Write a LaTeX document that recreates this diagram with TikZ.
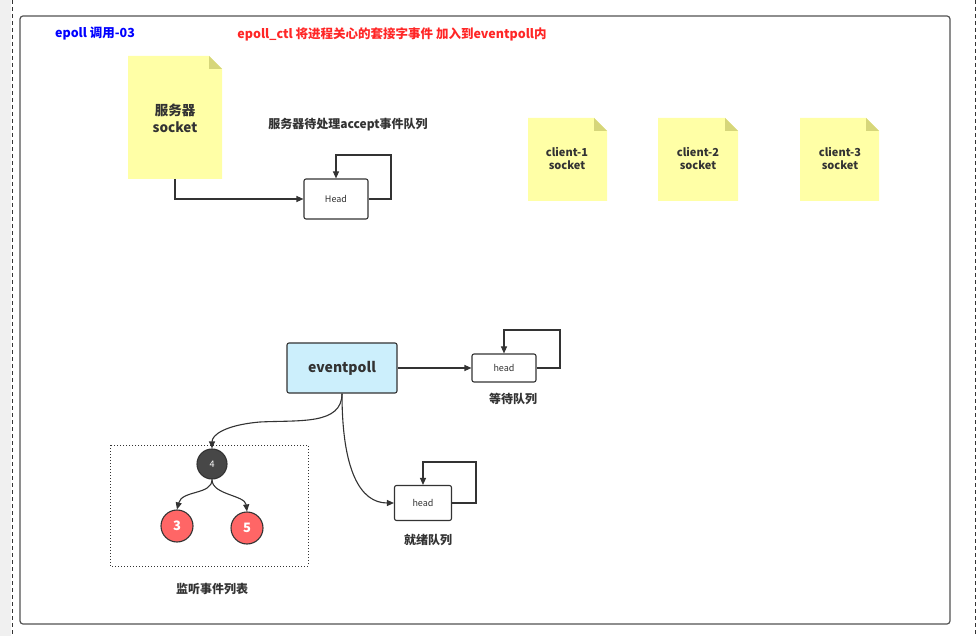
\documentclass[tikz,border=0pt]{standalone}
\usepackage{fontspec}
\setmainfont{Noto Sans CJK SC}
\usetikzlibrary{arrows.meta}
\definecolor{note}{HTML}{FFFFA6}
\definecolor{fold}{HTML}{D6D67A}
\definecolor{line}{HTML}{333333}
\begin{document}
\begin{tikzpicture}[x=1pt,y=-1pt,
  arr/.style={draw=line,line width=1.1pt,-{Triangle[length=7pt,width=6pt]}},
  hbox/.style={draw=line,line width=1.1pt,rounded corners=2pt,fill=white,inner sep=0pt},
  lbl/.style={font=\bfseries\fontsize{12}{14}\selectfont,text=line},
  clbl/.style={font=\bfseries\fontsize{11}{13}\selectfont,text=line,align=center},
  circ/.style={circle,draw=line,line width=1.1pt,inner sep=0pt,font=\bfseries\fontsize{13}{15}\selectfont,text=white}]
\useasboundingbox (0,0) rectangle (980,636);
\fill[gray!12] (0,0) rectangle (11,636);
\draw[line width=1pt,dash pattern=on 4pt off 3pt,line] (12,0) -- (12,636);
\draw[line width=1pt,dash pattern=on 4pt off 3pt,line] (975,0) -- (975,636);
\draw[line width=1.2pt,draw=line!85,rounded corners=3pt] (20,16) rectangle (950,624);
\node[font=\bfseries\fontsize{12.5}{14}\selectfont,text=blue] (t1) at (95,34) {epoll 调用-03};
\node[font=\bfseries\fontsize{12.5}{14}\selectfont,text=red!85] (t2) at (392,34) {epoll\_ctl 将进程关心的套接字事件 加入到eventpoll内};
% notes
\newcommand\mynote[5]{%
 \fill[note] (#1,#2) -- (#3-13,#2) -- (#3,#2+13) -- (#3,#4) -- (#1,#4) -- cycle;
 \fill[fold] (#3-13,#2) -- (#3,#2+13) -- (#3-13,#2+13) -- cycle;
 \coordinate (#5) at ({(#1+#3)/2},{(#2+#4)/2});}
\mynote{128}{56}{222}{179}{srv}
\node[font=\bfseries\fontsize{13.5}{17}\selectfont,text=line,align=center] (srvt) at (175,118) {服务器\\socket};
\mynote{528}{118}{607}{201}{c1}
\node[clbl] (c1t) at (567,159) {client-1\\socket};
\mynote{658}{118}{738}{201}{c2}
\node[clbl] (c2t) at (698,159) {client-2\\socket};
\mynote{800}{118}{879}{201}{c3}
\node[clbl] (c3t) at (840,159) {client-3\\socket};
\node[lbl] (aq) at (348,125) {服务器待处理accept事件队列};
% accept head
\node[hbox,minimum width=64pt,minimum height=40pt,font=\fontsize{9}{10}\selectfont,text=line] (h1) at (336,199) {Head};
\draw[arr] (175,179) |- (h1.west);
\draw[arr] (h1.east) -- (391,199) -- (391,155) -- (336,155) -- (h1.north);
% eventpoll
\node[draw=line,line width=1.1pt,rounded corners=2pt,fill=cyan!20,minimum width=110pt,minimum height=50pt,font=\bfseries\fontsize{14}{16}\selectfont,text=line] (ep) at (342,368) {eventpoll};
\node[hbox,minimum width=64pt,minimum height=28pt,font=\fontsize{9}{10}\selectfont,text=line] (h2) at (504,368) {head};
\draw[arr] (ep.east) -- (h2.west);
\draw[arr] (h2.east) -- (560,368) -- (560,330) -- (504,330) -- (h2.north);
\node[lbl] (w) at (513,399) {等待队列};
\node[hbox,minimum width=57pt,minimum height=35pt,font=\fontsize{9}{10}\selectfont,text=line] (h3) at (423,503) {head};
\draw[arr] (h3.east) -- (476,503) -- (476,462) -- (423,462) -- (h3.north);
\node[lbl] (r) at (428,540) {就绪队列};
\draw[arr] (ep.south) .. controls (342,470) and (360,503) .. (h3.west);
% tree
\draw[line width=1pt,dotted,line] (110,445) rectangle (308,566);
\node[circ,fill=line!90,minimum size=30pt,font=\fontsize{9}{10}\selectfont] (n4) at (212,464) {4};
\node[circ,fill=red!60,minimum size=32pt] (n3) at (177,526) {3};
\node[circ,fill=red!60,minimum size=32pt] (n5) at (247,528) {5};
\draw[arr] (ep.south) .. controls (342,425) and (300,420) .. (260,422) .. controls (225,425) and (212,435) .. (n4.north);
\draw[arr] (n4.south) .. controls (212,495) and (182,490) .. (n3.north);
\draw[arr] (n4.south) .. controls (212,495) and (245,495) .. (n5.north);
\node[lbl] (ls) at (212,589) {监听事件列表};
\end{tikzpicture}
\end{document}
